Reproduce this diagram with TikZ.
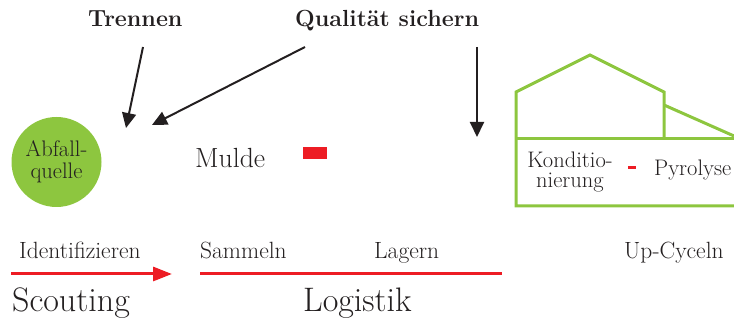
\documentclass[tikz,border=0pt]{standalone}
\usepackage{tikz}
\usetikzlibrary{arrows.meta}

\definecolor{leaf}{RGB}{141,198,63}
\definecolor{signal}{RGB}{237,28,36}
\definecolor{ink}{RGB}{35,31,32}

\tikzset{
  step label/.style={anchor=base west, inner sep=0pt, text=ink, font=\fontsize{23.5}{26}\selectfont},
  phase label/.style={anchor=base west, inner sep=0pt, text=ink, font=\fontsize{34}{38}\selectfont},
  task label/.style={anchor=base west, inner sep=0pt, text=ink, font=\fontsize{23.3}{28}\selectfont\bfseries},
  pointer/.style={draw=ink, line width=2pt, -{Triangle[length=15pt,width=14pt]}},
  flow/.style={draw=signal, line width=3pt}
}

\begin{document}
\begin{tikzpicture}[x=1pt, y=-1pt]
  \useasboundingbox (0,0) rectangle (734,320);

  % Source circle
  \node[circle, fill=leaf, minimum size=90pt, inner sep=0pt, text=ink, align=center,
        font=\fontsize{22.5}{22}\selectfont] (quelle) at (56.5,162) {Abfall-\\quelle};

  % Container
  \node[anchor=base west, inner sep=0pt, text=ink, font=\fontsize{27.7}{30}\selectfont] (mulde) at (195,168) {Mulde};
  \fill[signal] (303,147) rectangle (327,159);

  % Plant building
  \draw[leaf, line width=3pt, line join=miter]
    (734,206) -- (516,206) -- (516,92) -- (590,55) -- (664,92) -- (664,139);
  \draw[leaf, line width=3pt] (516,139) -- (734,139);
  \draw[leaf, line width=3pt] (664,105) -- (734,136);
  \node[inner sep=0pt, text=ink, align=center, font=\fontsize{22.5}{20}\selectfont,
        anchor=base] (kond) at (570,188) {Konditio-\\nierung};
  \node[anchor=base west, inner sep=0pt, text=ink, font=\fontsize{22.5}{24}\selectfont] (pyro) at (654,176) {Pyrolyse};
  \draw[signal, line width=3pt] (628,168) -- (636,168);

  % Tasks with pointers
  \node[task label] (trennen) at (88,27) {Trennen};
  \node[task label] (qualitaet) at (295,27) {Qualit\"at sichern};
  \coordinate (trennen-from) at (143,47);
  \coordinate (trennen-to) at (126,128);
  \coordinate (qual-from-a) at (305,47);
  \coordinate (qual-to-a) at (152,125);
  \coordinate (qual-from-b) at (477,47);
  \coordinate (qual-to-b) at (477,137);
  \draw[pointer] (trennen-from) -- (trennen-to);
  \draw[pointer] (qual-from-a) -- (qual-to-a);
  \draw[pointer] (qual-from-b) -- (qual-to-b);

  % Steps along the chain
  \node[step label] (ident) at (19,259) {Identifizieren};
  \node[step label] (sammeln) at (200,259) {Sammeln};
  \node[step label] (lagern) at (374,259) {Lagern};
  \node[step label] (upcycle) at (624,259) {Up-Cyceln};

  \coordinate (scout-a) at (11,274);
  \coordinate (scout-b) at (172,274);
  \coordinate (logi-a) at (200,274);
  \coordinate (logi-b) at (502,274);
  \draw[flow, -{Triangle[length=19pt,width=14pt]}] (scout-a) -- (scout-b);
  \draw[flow] (logi-a) -- (logi-b);

  % Phases
  \node[phase label] (scouting) at (12,312) {Scouting};
  \node[phase label] (logistik) at (303,312) {Logistik};
\end{tikzpicture}
\end{document}
